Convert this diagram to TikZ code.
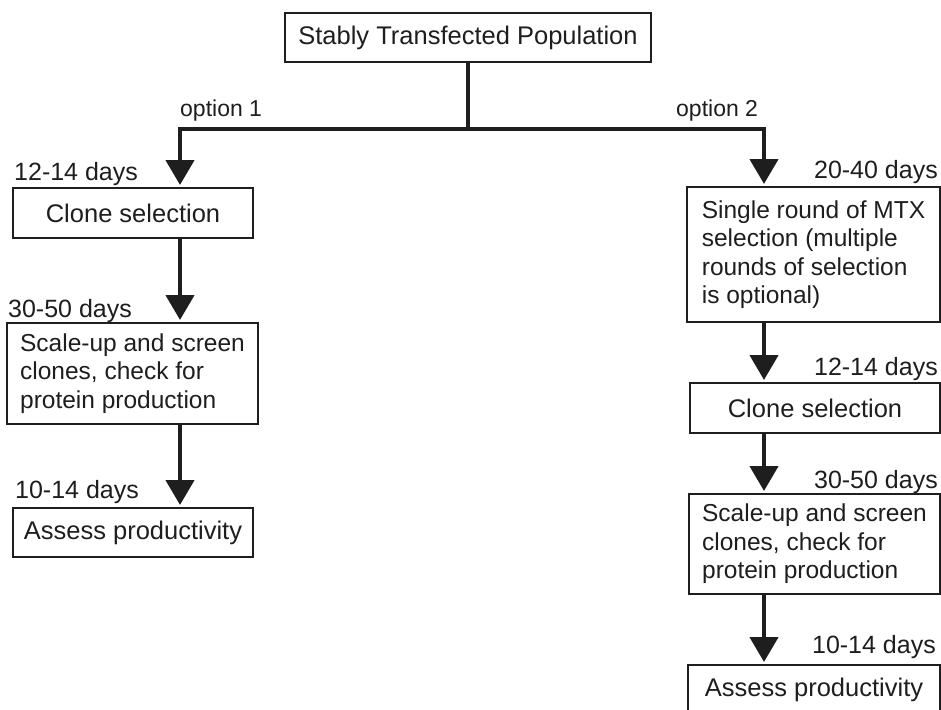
\documentclass[tikz,border=0pt]{standalone}
\usepackage{fontspec}
\setmainfont{Liberation Sans}
\usetikzlibrary{arrows.meta}
\definecolor{ink}{HTML}{1E1E1E}

\tikzset{
  box/.style={draw=ink, line width=2pt, rectangle, inner sep=0pt,
    text=ink, font=\fontsize{25.5}{28.5}\selectfont},
  stepbox/.style={box, align=left, font=\fontsize{24.5}{28.5}\selectfont},
  days/.style={inner sep=0pt, text=ink, font=\fontsize{25}{28.5}\selectfont},
  opt/.style={inner sep=0pt, text=ink, font=\fontsize{23}{26}\selectfont},
  flow/.style={draw=ink, line width=4.5pt},
  flowarrow/.style={flow, -{Triangle[width=28pt,length=25pt]}, shorten >=2pt},
}

\begin{document}
\begin{tikzpicture}[x=1pt, y=-1pt]
  \useasboundingbox (0,0) rectangle (941,709);

  % start box
  \node[box, minimum width=366pt, minimum height=49pt] (top) at (468,37.5)
    {Stably Transfected Population};

  % option 1 column
  \node[box, minimum width=240pt, minimum height=50pt] (l1) at (133,213)
    {Clone selection};
  \node[stepbox, minimum width=251pt, minimum height=101pt] (l2) at (132.5,373.5)
    {Scale-up and screen\\clones, check for\\protein production};
  \node[box, minimum width=240pt, minimum height=49pt] (l3) at (133,532.5)
    {Assess productivity};

  % option 2 column
  \node[stepbox, minimum width=253pt, minimum height=135pt] (r1) at (813.5,254.5)
    {Single round of MTX\\selection (multiple\\rounds of selection\\is optional)};
  \node[box, minimum width=250pt, minimum height=50pt] (r2) at (815,408)
    {Clone selection};
  \node[stepbox, minimum width=251pt, minimum height=100pt] (r3) at (814.5,544)
    {Scale-up and screen\\clones, check for\\protein production};
  \node[box, minimum width=252pt, minimum height=50pt] (r4) at (814,690)
    {Assess productivity};

  % arrow columns and branch point
  \coordinate (lx) at (180,0);
  \coordinate (rx) at (764,0);
  \coordinate (split) at (468,129);

  \draw[flow] (top.south) -- (split);
  \draw[flowarrow] (split) -| (l1.north -| lx);
  \draw[flowarrow] (split) -| (r1.north -| rx);

  \draw[flowarrow] (l1.south -| lx) -- (l2.north -| lx);
  \draw[flowarrow] (l2.south -| lx) -- (l3.north -| lx);
  \draw[flowarrow] (r1.south -| rx) -- (r2.north -| rx);
  \draw[flowarrow] (r2.south -| rx) -- (r3.north -| rx);
  \draw[flowarrow] (r3.south -| rx) -- (r4.north -| rx);

  % branch labels
  \node[opt, anchor=base west] (o1) at (180,116) {option 1};
  \node[opt, anchor=base west] (o2) at (676,116) {option 2};

  % durations
  \node[days, anchor=base west] (d1) at (14,180) {12-14 days};
  \node[days, anchor=base west] (d2) at (8,317) {30-50 days};
  \node[days, anchor=base west] (d3) at (15,498) {10-14 days};
  \node[days, anchor=base east] (d4) at (938,178) {20-40 days};
  \node[days, anchor=base east] (d5) at (938,375) {12-14 days};
  \node[days, anchor=base east] (d6) at (938,488) {30-50 days};
  \node[days, anchor=base east] (d7) at (936,653) {10-14 days};
\end{tikzpicture}
\end{document}
